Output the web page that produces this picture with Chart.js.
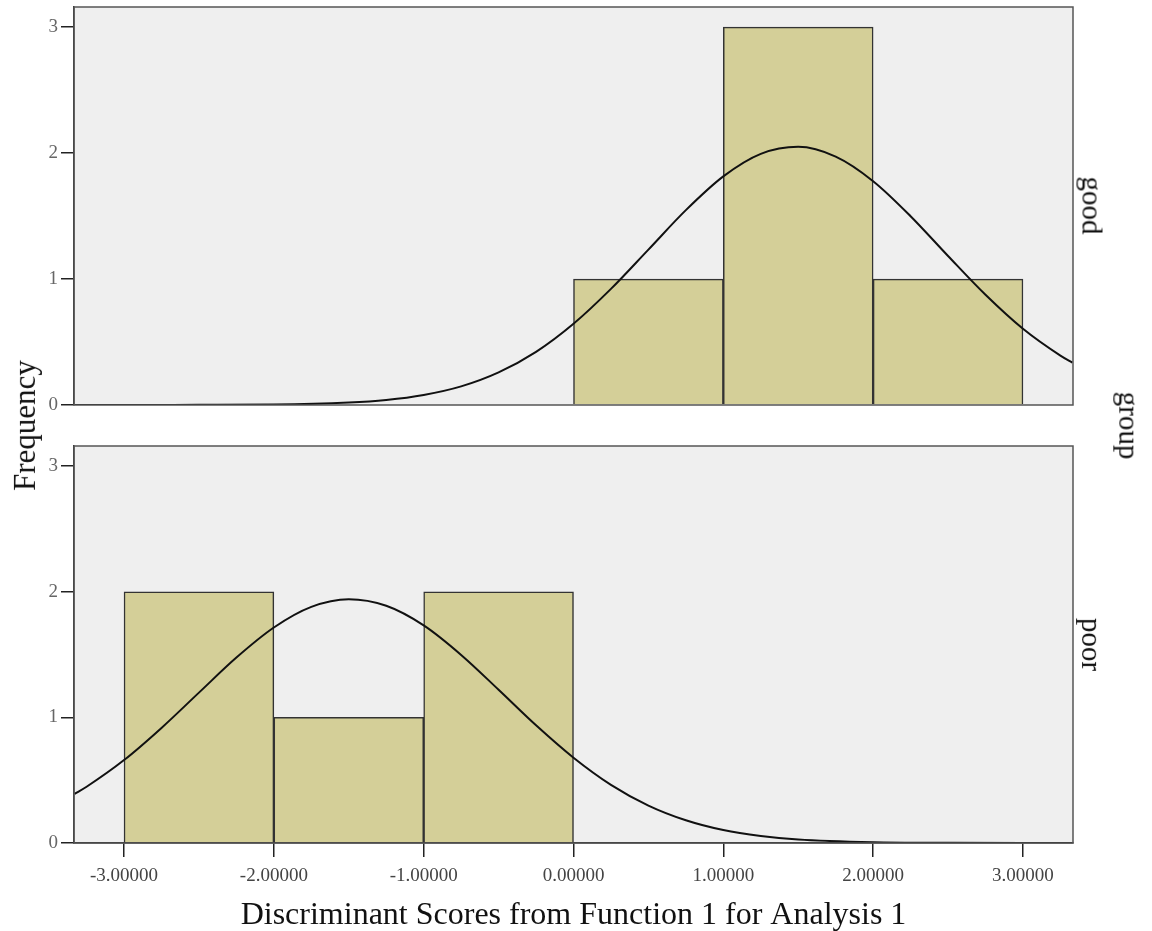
<!DOCTYPE html>
<html>
<head>
<meta charset="utf-8">
<script src="https://cdn.jsdelivr.net/npm/chart.js@4.4.0/dist/chart.umd.min.js"></script>
<style>
body{margin:0;background:#fff;}
#wrap{position:relative;width:1152px;height:931px;overflow:hidden;font-family:"Liberation Serif","DejaVu Serif",serif;color:#111;}
canvas{position:absolute;left:0;}
.lbl{position:absolute;white-space:nowrap;font-size:29px;line-height:1;transform-origin:center center;}
#freq{font-size:31px;}
</style>
</head>
<body>
<div id="wrap">
<canvas id="topChart" width="1152" height="430" style="top:-10px"></canvas>
<canvas id="bottomChart" width="1152" height="505" style="top:430px"></canvas>
<div class="lbl" id="freq">Frequency</div>
<div class="lbl" id="good">good</div>
<div class="lbl" id="poor">poor</div>
<div class="lbl" id="grp">group</div>
</div>

<script>

// histogram bins (centers) and counts
const goodBins = [0.5, 1.5, 2.5];
const goodCounts = [1, 3, 1];

const poorBins = [-2.5, -1.5, -0.5];
const poorCounts = [2, 1, 2];

// normal curves
const curveX = [-3.33,-3,-2.5,-2,-1.5,-1.25,-1,-0.75,-0.5,-0.25,0,0.25,0.5,0.75,1,1.25,1.5,1.75,2,2.25,2.5,2.75,3,3.25,3.33];
const goodCurve = [0,0,0.001,0.003,0.019,0.04,0.08,0.148,0.259,0.422,0.645,0.922,1.234,1.547,1.815,1.994,2.05,1.972,1.777,1.499,1.183,0.875,0.605,0.392,0.336];

const poorCurveX = [-3.33,-3.25,-3,-2.75,-2.5,-2.25,-2,-1.75,-1.5,-1.25,-1,-0.75,-0.5,-0.25,0,0.25,0.5,0.75,1,1.25,1.5,2,2.5,3,3.33];
const poorCurve = [0.391,0.448,0.66,0.916,1.197,1.476,1.715,1.879,1.94,1.888,1.732,1.497,1.22,0.937,0.679,0.463,0.298,0.181,0.103,0.056,0.028,0.006,0.001,0,0];

const xTicks = [-3,-2,-1,0,1,2,3];
const yTicks = [0,1,2,3];

const xMin = -3.334, xMax = 3.334;
const yMax = 3.16;

const font = {family:'"Liberation Serif","DejaVu Serif",serif', size:19};


const panelBox = {
id:"panelBox",
beforeDraw(chart){
const a = chart.chartArea;
const ctx = chart.ctx;
ctx.save();
ctx.fillStyle = "#efefef";
ctx.fillRect(a.left, a.top, a.right-a.left, a.bottom-a.top);
ctx.restore();
},
afterDatasetsDraw(chart){
const a = chart.chartArea;
const ctx = chart.ctx;
ctx.save();
ctx.strokeStyle = "#555";
ctx.lineWidth = 1.5;
ctx.strokeRect(a.left, a.top, a.right-a.left, a.bottom-a.top);
ctx.restore();
}
};


function pts(xs, ys){
return xs.map((x,i)=>({x:x, y:ys[i]}));
}


function makePanel(id, bins, counts, cx, cy, showX){

return new Chart(document.getElementById(id),{
type:"bar",
data:{
datasets:[
{
type:"line",
data:pts(cx, cy),
borderColor:"#111",
borderWidth:2,
pointRadius:0,
cubicInterpolationMode:"monotone",
order:0
},
{
type:"bar",
data:pts(bins, counts),
backgroundColor:"#d4cf98",
borderColor:"#333",
borderWidth:1.5,
barPercentage:1,
categoryPercentage:1,
order:1
}
]
},
options:{
responsive:false,
animation:false,
events:[],
layout:{padding: showX ? {left:0,right:79,top:16,bottom:0} : {left:0,right:79,top:17,bottom:15}},
plugins:{legend:{display:false}, tooltip:{enabled:false}},
scales:{
x:{
type:"linear",
min:xMin,
max:xMax,
offset:false,
display:showX,
grid:{offset:false, drawOnChartArea:false, tickLength:14, color:"#222", lineWidth:1.5},
border:{color:"#222", width:1.5},
ticks:{
includeBounds:false,
stepSize:1,
font:font,
color:"#444",
padding:8,
maxRotation:0,
callback:v=>v.toFixed(5)
},
afterBuildTicks:s=>{ s.ticks = xTicks.map(v=>({value:v})); },
afterFit:s=>{ if(showX) s.height = 92; },
title:{
display:true,
text:"Discriminant Scores from Function 1 for Analysis 1",
font:{family:font.family, size:32},
color:"#111",
padding:{top:4,bottom:0}
}
},
y:{
min:0,
max:yMax,
grid:{drawOnChartArea:false, tickLength:13, color:"#222", lineWidth:1.5},
border:{color:"#222", width:1.5},
ticks:{includeBounds:false, stepSize:1, font:font, color:"#666", padding:3},
afterBuildTicks:s=>{ s.ticks = yTicks.map(v=>({value:v})); },
afterFit:s=>{ s.width = 74; }
}
}
},
plugins:[panelBox]
});

}


makePanel("topChart", goodBins, goodCounts, curveX, goodCurve, false);
makePanel("bottomChart", poorBins, poorCounts, poorCurveX, poorCurve, true);


// rotated side labels
function place(id, cx, cy, deg){
const el = document.getElementById(id);
const w = el.offsetWidth, h = el.offsetHeight;
el.style.left = (cx - w/2) + "px";
el.style.top = (cy - h/2) + "px";
el.style.transform = "rotate(" + deg + "deg)";
}

place("freq", 24, 425, -90);
place("good", 1092, 205, 90);
place("poor", 1091, 644, 90);
place("grp", 1129, 425, 90);

</script>
</body>
</html>
